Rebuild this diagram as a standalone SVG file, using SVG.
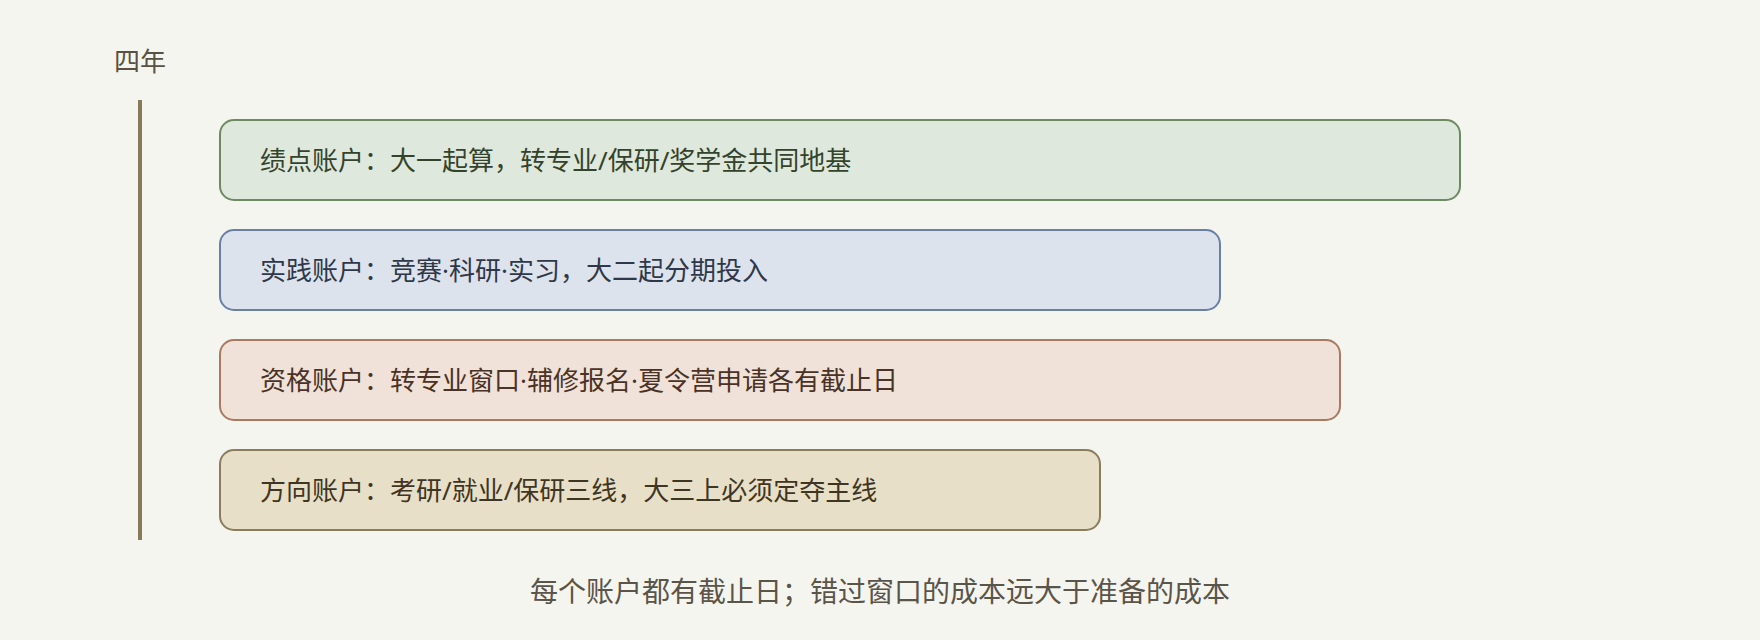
<svg xmlns="http://www.w3.org/2000/svg" width="1760" height="640" viewBox="0 0 1760 640">
<style>
.t{font-family:"Noto Sans","Noto Sans CJK SC",sans-serif;font-size:26px}
.box{stroke-width:2}
</style>
<rect width="1760" height="640" fill="#f5f5f0"/>
<text class="t" x="114" y="71" fill="#5a5142">四年</text>
<g id="connectors">
<line x1="140" y1="100" x2="140" y2="540" stroke="#857a5a" stroke-width="4"/>
</g>
<g id="node-gpa">
<rect class="box" x="220" y="120" width="1240" height="80" rx="14" fill="#dfe8dc" stroke="#6f8a63"/>
<text class="t" x="260" y="170" fill="#34432c">绩点账户：大一起算，转专业/保研/奖学金共同地基</text>
</g>
<g id="node-practice">
<rect class="box" x="220" y="230" width="1000" height="80" rx="14" fill="#dde3ec" stroke="#6a7fa6"/>
<text class="t" x="260" y="280" fill="#2f3848">实践账户：竞赛·科研·实习，大二起分期投入</text>
</g>
<g id="node-qual">
<rect class="box" x="220" y="340" width="1120" height="80" rx="14" fill="#f0e2d8" stroke="#a87a62"/>
<text class="t" x="260" y="390" fill="#4a3226">资格账户：转专业窗口·辅修报名·夏令营申请各有截止日</text>
</g>
<g id="node-dir">
<rect class="box" x="220" y="450" width="880" height="80" rx="14" fill="#e8dfc8" stroke="#8a7d5e"/>
<text class="t" x="260" y="500" fill="#3f3522">方向账户：考研/就业/保研三线，大三上必须定夺主线</text>
</g>
<text x="880" y="602" text-anchor="middle" style="font-family:'Noto Sans','Noto Sans CJK SC',sans-serif;font-size:28px" fill="#5b5449">每个账户都有截止日；错过窗口的成本远大于准备的成本</text>
</svg>
